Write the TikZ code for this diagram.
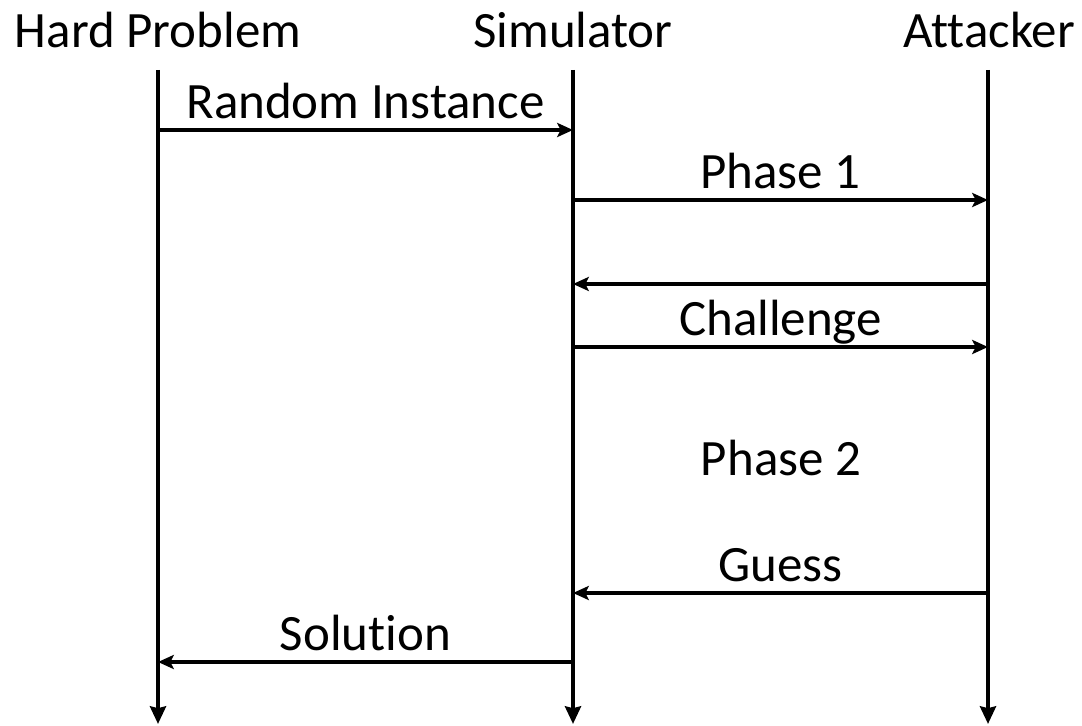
\documentclass[tikz,border=0pt]{standalone}
\usepackage{fontspec}
\setmainfont{Carlito}[Ligatures=NoCommon]
\usetikzlibrary{arrows.meta}

\begin{document}
\begin{tikzpicture}[
			x=0.02cm, y=-0.02cm,
			party/.style={font=\fontsize{29}{34}\selectfont, inner sep=0pt, anchor=base},
			lifeline/.style={-{Stealth[length=10pt,width=9pt,inset=1pt]}, line width=2.3pt},
			msg/.style={-{Stealth[length=9pt,width=8pt,inset=2pt]}, line width=2pt},
			msglabel/.style={font=\fontsize{29}{34}\selectfont, inner sep=0pt, anchor=base, yshift=6.8pt}
			]
			\useasboundingbox (0,0) rectangle (1082,726);
			
			% Parties
			\node[party] (hp) at (158,48) {Hard Problem};
			\node[party] (sim) at (573,48) {Simulator};
			\node[party] (att) at (989,48) {Attacker};
			
			% Lifelines
			\coordinate (hp-top) at (158,70);
			\coordinate (hp-end) at (158,724);
			\coordinate (sim-top) at (573,70);
			\coordinate (sim-end) at (573,724);
			\coordinate (att-top) at (988,70);
			\coordinate (att-end) at (988,724);
			\draw[lifeline] (hp-top) -- (hp-end);
			\draw[lifeline] (sim-top) -- (sim-end);
			\draw[lifeline] (att-top) -- (att-end);
			
			% Messages
			\draw[msg] (hp-top |- 0,130) -- node[msglabel] {Random Instance} (sim-top |- 0,130);
			\draw[msg] (sim-top |- 0,200) -- node[msglabel] {Phase 1} (att-top |- 0,200);
			\draw[msg] (att-top |- 0,284) -- (sim-top |- 0,284);
			\draw[msg] (sim-top |- 0,347) -- node[msglabel] {Challenge} (att-top |- 0,347);
			\node[party] (phase2) at (781,475) {Phase 2};
			\draw[msg] (att-top |- 0,593) -- node[msglabel] {Guess} (sim-top |- 0,593);
			\draw[msg] (sim-top |- 0,662) -- node[msglabel] {Solution} (hp-top |- 0,662);
			
		\end{tikzpicture}
\end{document}
